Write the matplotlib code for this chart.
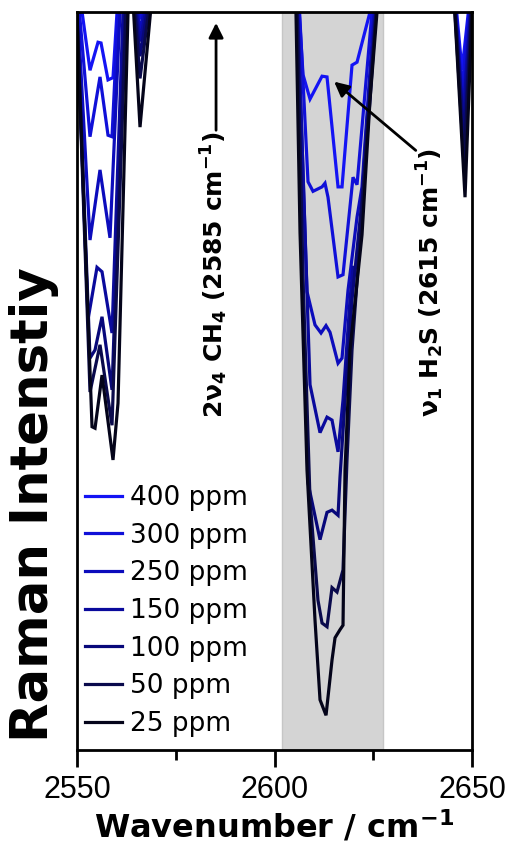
import matplotlib
matplotlib.use("Agg")
import matplotlib.pyplot as plt

plt.rcParams['font.family'] = ['Liberation Sans', 'DejaVu Sans']
plt.rcParams['mathtext.default'] = 'bf'

labels = ['400 ppm', '300 ppm', '250 ppm', '150 ppm', '100 ppm', '50 ppm', '25 ppm']
colors = ['#1414f4', '#1010d8', '#0c0cbc', '#0a0a9c', '#08087a', '#0a0a4c', '#04041a']

# wavenumber (cm-1) / Raman intensity (a.u., view window 0-100)
x400 = [2549.5, 2553.29, 2555.32, 2556.08, 2557.85, 2559.11, 2560.13, 2560.6,
        2563.6, 2565.95, 2569.8,
        2605.44, 2607.22, 2608.99, 2612.03, 2613.29, 2616.08, 2617.09, 2619.62, 2620.89, 2624.18, 2625.19,
        2644.9, 2647.47, 2650.5]
y400 = [107, 92.1, 95.9, 95.8, 90.8, 91.1, 100, 107,
        107, 101, 107,
        107, 91.5, 88.2, 91.3, 91.2, 76.3, 76.3, 92.8, 93.2, 100, 107,
        107, 92.1, 107]

x300 = [2549.5, 2553.29, 2555.82, 2557.85, 2558.86, 2560.38, 2561.0,
        2563.6, 2565.95, 2569.8,
        2605.7, 2608.48, 2609.75, 2612.03, 2612.78, 2613.54, 2616.08, 2617.34, 2619.87, 2620.89, 2624.68, 2625.44,
        2644.9, 2647.47, 2650.5]
y300 = [107, 83.1, 91.2, 83.3, 83.1, 100, 107,
        107, 99.0, 107,
        107, 77.0, 75.7, 76.3, 76.8, 74.9, 64.1, 64.4, 77.6, 76.6, 100, 107,
        107, 89.4, 107]

x250 = [2549.5, 2553.29, 2555.82, 2558.35, 2560.89, 2561.6,
        2563.6, 2565.95, 2569.8,
        2605.44, 2608.23, 2610.25, 2611.77, 2613.04, 2614.05, 2616.08, 2617.09, 2618.61, 2620.89, 2622.15, 2625.19, 2625.95,
        2644.9, 2647.72, 2650.5]
y250 = [107, 69.1, 78.6, 69.4, 100, 107,
        107, 97.5, 107,
        107, 62.1, 57.6, 56.5, 57.5, 56.6, 52.4, 53.1, 62.3, 72.2, 76.3, 100, 107,
        107, 86.7, 107]

x150 = [2549.5, 2552.78, 2555.06, 2556.33, 2558.86, 2561.65, 2562.3,
        2563.6, 2565.95, 2569.8,
        2605.44, 2608.99, 2611.52, 2613.29, 2614.56, 2616.08, 2617.34, 2619.11, 2619.87, 2621.14, 2622.91, 2625.44, 2626.2,
        2644.9, 2647.72, 2650.5]
y150 = [107, 58.3, 65.4, 64.8, 56.5, 100, 107,
        107, 96.0, 107,
        107, 49.5, 43.0, 45.1, 44.7, 40.4, 47.4, 61.0, 65.4, 65.3, 81.3, 100, 107,
        107, 84.7, 107]

x100 = [2549.5, 2553.29, 2554.56, 2556.33, 2558.86, 2562.15, 2562.8,
        2563.6, 2565.95, 2569.8,
        2605.44, 2606.96, 2608.48, 2611.52, 2613.29, 2614.56, 2616.08, 2616.58, 2617.85, 2619.62, 2622.15, 2624.18, 2625.70, 2626.46,
        2644.9, 2647.97, 2650.5]
y100 = [107, 53.1, 54.2, 58.7, 48.8, 100, 107,
        107, 94.0, 107,
        107, 67.8, 36.2, 28.5, 32.2, 32.5, 31.8, 37.0, 47.4, 61.0, 74.5, 88.1, 100, 107,
        107, 82.7, 107]

x50 = [2549.5, 2553.29, 2555.82, 2558.86, 2562.4, 2563.0,
       2563.6, 2565.95, 2569.8,
       2605.44, 2607.22, 2608.99, 2611.0, 2612.03, 2613.29, 2614.56, 2615.82, 2617.34, 2618.35, 2619.62, 2621.65, 2623.67, 2625.70, 2626.46,
       2644.9, 2647.97, 2650.5]
y50 = [107, 48.5, 54.9, 44.0, 100, 107,
       107, 91.0, 107,
       107, 63.7, 33.9, 20.3, 17.2, 16.7, 22.0, 21.4, 24.4, 39.3, 54.2, 69.1, 85.4, 100, 107,
       107, 79.3, 107]

x25 = [2549.5, 2553.80, 2554.56, 2556.33, 2559.11, 2560.38, 2562.91, 2563.4,
       2563.6, 2565.95, 2569.8,
       2605.19, 2606.46, 2608.23, 2610.25, 2611.52, 2613.04, 2614.56, 2615.32, 2616.58, 2617.34, 2617.85, 2619.11, 2622.15, 2624.18, 2625.95, 2626.7,
       2644.9, 2648.23, 2650.5]
y25 = [107, 43.8, 43.6, 50.8, 39.3, 47.0, 100, 107,
       107, 84.4, 107,
       107, 70.1, 37.9, 17.6, 6.8, 4.7, 12.2, 15.2, 16.3, 16.9, 37.9, 54.2, 69.8, 88.1, 100, 107,
       107, 74.9, 107]

xs = [x400, x300, x250, x150, x100, x50, x25]
ys = [y400, y300, y250, y150, y100, y50, y25]

band_lo, band_hi = 2602.0, 2627.5

fig = plt.figure(figsize=(5.07, 8.44), dpi=100)
ax = fig.add_axes([0.1519, 0.1114, 0.7791, 0.8744])

ax.axvspan(band_lo, band_hi, facecolor='#d4d4d4', edgecolor='#c6c6c6', lw=1, zorder=0)

for x, y, c, lab in zip(xs, ys, colors, labels):
    ax.plot(x, y, color=c, lw=2.3, label=lab, solid_joinstyle='miter', zorder=2)

ax.set_xlim(2550, 2650)
ax.set_ylim(0, 100)
ax.set_xticks([2550, 2600, 2650])
ax.set_xticks([2575, 2625], minor=True)
ax.set_yticks([])
ax.tick_params(axis='x', which='major', direction='out', length=12, width=2, labelsize=22, pad=6)
ax.tick_params(axis='x', which='minor', direction='out', length=7, width=2)
for s in ax.spines.values():
    s.set_linewidth(2)
    s.set_zorder(5)

ax.set_xlabel('Wavenumber / cm$^{-1}$', fontsize=23, fontweight='bold', family='DejaVu Sans', va='baseline')
ax.xaxis.set_label_coords(0.5, -0.119)
ax.set_ylabel('Raman Intenstiy', fontsize=37, fontweight='bold', family='DejaVu Sans', va='center', ha='center')
ax.yaxis.set_label_coords(-0.109, 0.332)

# annotations
ax.annotate('', xy=(2585.2, 98.9), xytext=(2585.2, 83.6),
            arrowprops=dict(arrowstyle='-|>', color='black', lw=2, mutation_scale=22))
ax.text(2584.8, 64.4, '2ν$_4$ CH$_4$ (2585 cm$^{-1}$)', rotation=90, ha='center', va='center',
        fontsize=18, fontweight='bold', family='DejaVu Sans')
ax.annotate('', xy=(2614.56, 90.8), xytext=(2636.3, 81.0),
            arrowprops=dict(arrowstyle='-|>', color='black', lw=2, mutation_scale=22))
ax.text(2639.4, 63.3, '$\\nu_1$ H$_2$S (2615 cm$^{-1}$)', rotation=90, ha='center', va='center',
        fontsize=18, fontweight='bold', family='DejaVu Sans')

leg = ax.legend(loc='lower left', bbox_to_anchor=(-0.0127, 0.0), frameon=False,
                prop={'family': 'DejaVu Sans', 'size': 19}, handlelength=1.4,
                handletextpad=0.3, labelspacing=0.44, borderaxespad=0.2, borderpad=0.3)

fig.savefig('out.png', dpi=100)
